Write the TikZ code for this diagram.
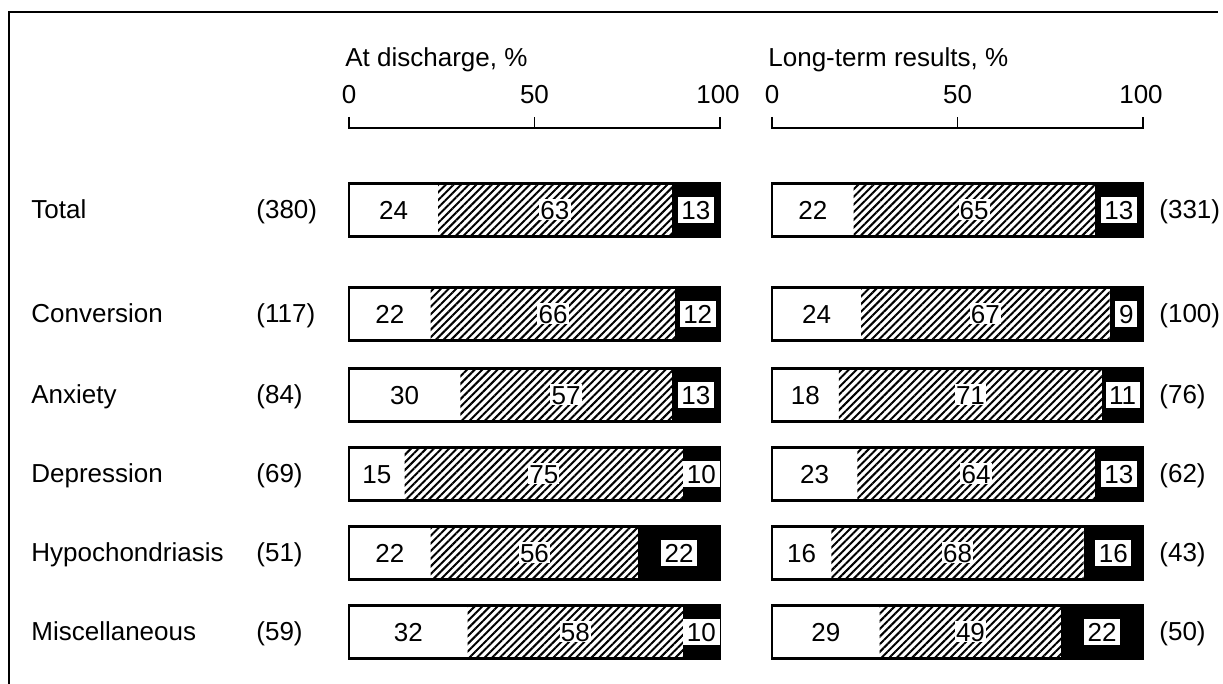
\documentclass[tikz,border=0pt]{standalone}
\usepackage{fontspec}
\setmainfont{Liberation Sans}
\usetikzlibrary{patterns.meta}

% one bar: #1 name, #2 left x, #3 centre y, #4 white, #5 hatched, #6 black
\newcommand{\chartbar}[6]{%
	\pgfmathsetmacro{\xa}{#2+3.71*#4}
	\pgfmathsetmacro{\xb}{#2+3.71*(#4+#5)}
	\pgfmathsetmacro{\xc}{#2+371}
	\fill[white] (#2,#3-26.5) rectangle (\xa,#3+26.5);
	\fill[hatch] (\xa,#3-26.5) rectangle (\xb,#3+26.5);
	\fill[black] (\xb,#3-26.5) rectangle (\xc,#3+26.5);
	\draw[bar outline] (#2,#3-26.5) rectangle (\xc,#3+26.5);
	\node[plain num] (#1-w) at ({(#2+\xa)/2},#3) {#4};
	\node[hatch num] (#1-h) at ({(\xa+\xb)/2},#3) {#5};
	\node[black num] (#1-b) at ({(\xb+\xc)/2},#3) {#6};
}

\begin{document}
\begin{tikzpicture}
		[x=0.5pt,y=-0.5pt,line cap=butt,
		font=\fontsize{13}{15}\selectfont,
		%Styles
		bar outline/.style={line width=1.1pt},
		hatch/.style={pattern={Lines[angle=45,distance=2.7pt,line width=1pt]}},
		num/.style={inner sep=0.6pt,text height=9.3pt,text depth=0pt},
		plain num/.style={num},
		hatch num/.style={num,fill=white},
		black num/.style={num,fill=white,inner sep=1.8pt},
		row label/.style={anchor=base west,inner sep=0pt},
		axis line/.style={line width=0.8pt},
		frame line/.style={line width=1.4pt}
		]
		
		\useasboundingbox (0,0) rectangle (1223,684);
		
		%The frame
		\draw[frame line] (9,684) -- (9,12) -- (1218,12);
		
		%The axes
		\foreach \xo/\ttl/\nm in {349/{At discharge, \%}/dis, 772/{Long-term results, \%}/long}{
			\node[row label] (\nm-title) at (\xo-4,67) {\ttl};
			\node (\nm-0) at (\xo,95) {0};
			\node (\nm-50) at (\xo+185.5,95) {50};
			\node (\nm-100) at (\xo+369,95) {100};
			\draw[axis line] (\xo,117) -- (\xo,128) -- (\xo+371,128) -- (\xo+371,117);
			\draw[axis line] (\xo+185.5,128) -- (\xo+185.5,117);
		}
		
		%The bars
		\foreach \nm/\lab/\nl/\nr/\y/\wl/\hl/\bl/\wr/\hr/\br in {
			total/Total/380/331/210/24/63/13/22/65/13,
			conv/Conversion/117/100/314/22/66/12/24/67/9,
			anx/Anxiety/84/76/395/30/57/13/18/71/11,
			dep/Depression/69/62/474/15/75/10/23/64/13,
			hyp/Hypochondriasis/51/43/553/22/56/22/16/68/16,
			misc/Miscellaneous/59/50/632/32/58/10/29/49/22}{
			\node[row label] (\nm-lab) at (31,\y+9) {\lab};
			\node[row label] (\nm-nl) at (256,\y+9) {(\nl)};
			\node[row label] (\nm-nr) at (1159,\y+9) {(\nr)};
			\chartbar{\nm-l}{349}{\y}{\wl}{\hl}{\bl}
			\chartbar{\nm-r}{772}{\y}{\wr}{\hr}{\br}
		}
	\end{tikzpicture}
\end{document}
